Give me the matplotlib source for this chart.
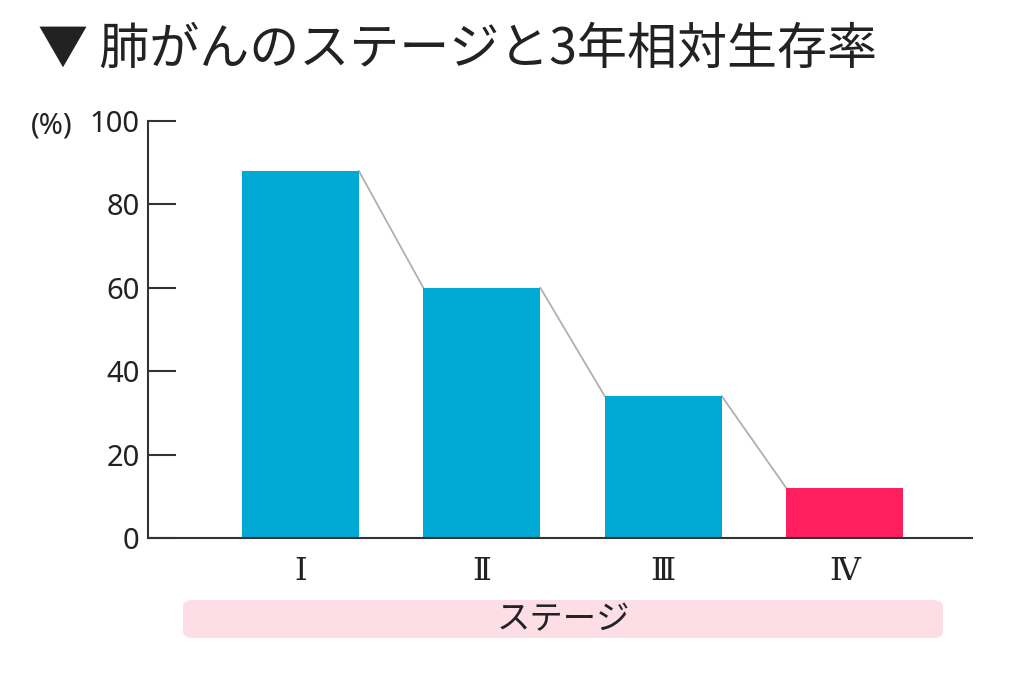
import matplotlib.pyplot as plt
import matplotlib.transforms as mtransforms
from matplotlib.patches import FancyBboxPatch

plt.rcParams['font.family'] = ['Noto Sans CJK JP', 'DejaVu Sans']

stages = ['Ⅰ', 'Ⅱ', 'Ⅲ', 'Ⅳ']
survival = [88, 60, 34, 12]
bar_colors = ['#00a8d4', '#00a8d4', '#00a8d4', '#ff1f5f']
yticks = [0, 20, 40, 60, 80, 100]

fig = plt.figure(figsize=(10.24, 6.86), dpi=100)
ax = fig.add_axes([0.1445, 0.2157, 0.8045, 0.6079])

w = 0.645
x = list(range(len(stages)))
ax.bar(x, survival, width=w, color=bar_colors, zorder=2)

# grey connectors from top-right of one bar to top-left of next
for i in range(len(survival) - 1):
    ax.plot([x[i] + w / 2, x[i + 1] - w / 2], [survival[i], survival[i + 1]],
            color='#b0b0b0', lw=1.3, zorder=1)

ax.set_xlim(-0.84, 3.70)
ax.set_ylim(0, 100)
ax.spines['top'].set_visible(False)
ax.spines['right'].set_visible(False)
for s in ['left', 'bottom']:
    ax.spines[s].set_color('#333333')
    ax.spines[s].set_linewidth(1.5)

ax.set_yticks(yticks)
ax.set_yticklabels([str(v) for v in yticks], fontsize=21, color='#222222',
                   family=['Noto Sans', 'DejaVu Sans'])
shift = mtransforms.ScaledTranslation(0, -4 / 100, fig.dpi_scale_trans)
for lab in ax.get_yticklabels():
    lab.set_transform(lab.get_transform() + shift)
ax.tick_params(axis='y', direction='in', length=20, width=1.5, color='#333333', pad=6)
ax.set_xticks(x)
ax.set_xticklabels(stages, fontsize=23, color='#222222', family=['DejaVu Serif'])
ax.tick_params(axis='x', length=0, pad=13)

fig.text(0.030, 1 - 126 / 686, '(%)', fontsize=21, color='#222222', va='center', ha='left',
         family=['Noto Sans', 'DejaVu Sans'])

fig.text(0.037, 1 - 50 / 686, '▼ 肺がんのステージと3年相対生存率', fontsize=36,
         color='#222222', va='center', ha='left')

box = FancyBboxPatch((183 / 1024, 1 - 638 / 686), (943 - 183) / 1024, 38 / 686,
                     boxstyle='round,pad=0,rounding_size=0.01',
                     transform=fig.transFigure, facecolor='#fddde6', edgecolor='none')
fig.patches.append(box)
fig.text(563 / 1024, 1 - 620 / 686, 'ステージ', fontsize=24, color='#222222',
         ha='center', va='center')

fig.savefig('out.png', dpi=100)
